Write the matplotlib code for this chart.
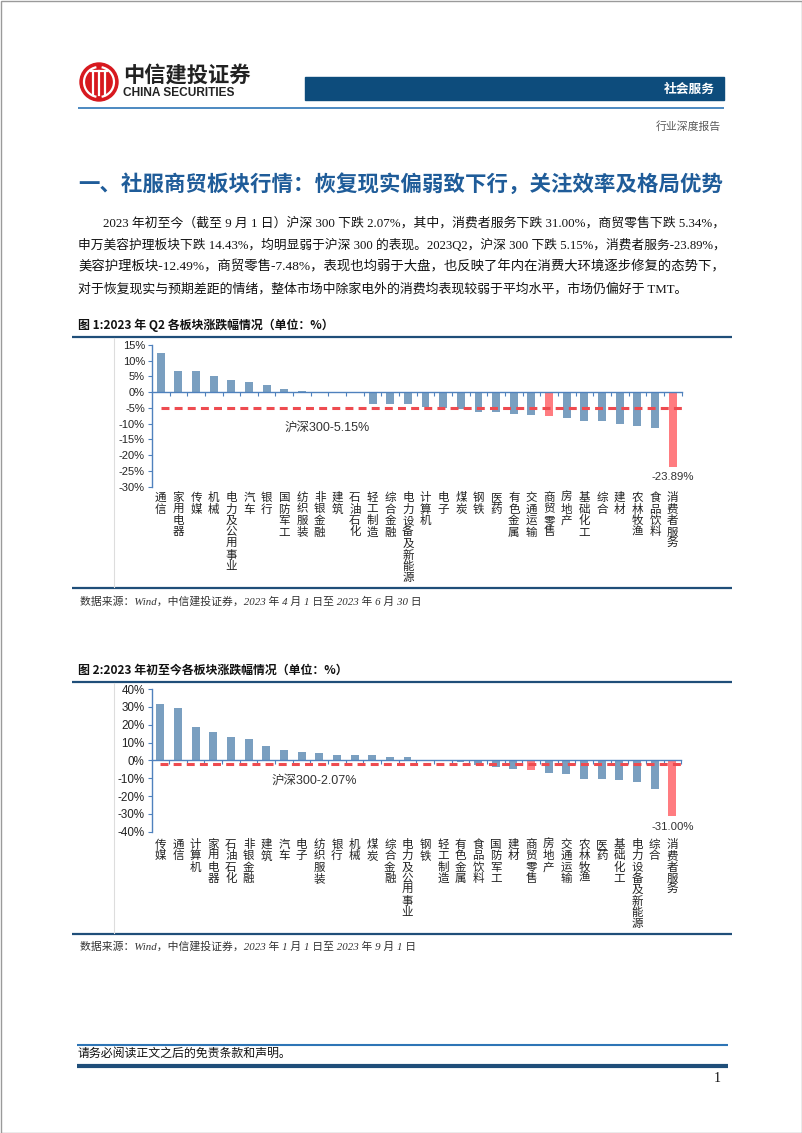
import matplotlib.pyplot as plt
from matplotlib.patches import Rectangle, Circle, Arc
from matplotlib.transforms import blended_transform_factory

W, H = 802, 1133
CJK = ['Noto Sans CJK SC', 'DejaVu Sans']
SERIF = ['Liberation Serif', 'Noto Sans CJK SC']
SANS = ['Liberation Sans', 'Noto Sans CJK SC']

plt.rcParams['font.family'] = CJK
plt.rcParams['axes.unicode_minus'] = False

# ---- data ----
q2_sectors = ['通信', '家用电器', '传媒', '机械', '电力及公用事业', '汽车', '银行', '国防军工',
              '纺织服装', '非银金融', '建筑', '石油石化', '轻工制造', '综合金融', '电力设备及新能源',
              '计算机', '电子', '煤炭', '钢铁', '医药', '有色金属', '交通运输', '商贸零售', '房地产',
              '基础化工', '综合', '建材', '农林牧渔', '食品饮料', '消费者服务']
q2_change = [12.6, 6.9, 6.7, 5.0, 4.0, 3.1, 2.4, 1.1, 0.4, 0.0, -0.1, -0.1, -3.6, -3.8, -3.7,
             -4.7, -4.9, -5.2, -6.3, -6.3, -6.9, -7.3, -7.48, -8.3, -9.1, -9.2, -10.2, -10.6,
             -11.3, -23.89]
q2_hs300 = -5.15

ytd_sectors = ['传媒', '通信', '计算机', '家用电器', '石油石化', '非银金融', '建筑', '汽车', '电子',
               '纺织服装', '银行', '机械', '煤炭', '综合金融', '电力及公用事业', '钢铁', '轻工制造',
               '有色金属', '食品饮料', '国防军工', '建材', '商贸零售', '房地产', '交通运输', '农林牧渔',
               '医药', '基础化工', '电力设备及新能源', '综合', '消费者服务']
ytd_change = [31.5, 29.1, 18.6, 16.0, 13.1, 12.2, 8.1, 5.6, 4.7, 4.3, 3.2, 3.2, 2.8, 1.6, 1.6,
              0.3, -0.4, -0.8, -2.4, -3.6, -4.6, -5.34, -7.0, -7.4, -10.4, -10.4, -11.1, -12.2,
              -15.8, -31.00]
ytd_hs300 = -2.07

highlight = ['商贸零售', '消费者服务']

q2_ticks = [15, 10, 5, 0, -5, -10, -15, -20, -25, -30]
ytd_ticks = [40, 30, 20, 10, 0, -10, -20, -30, -40]

body_lines = [
    '2023 年初至今（截至 9 月 1 日）沪深 300 下跌 2.07%，其中，消费者服务下跌 31.00%，商贸零售下跌 5.34%，',
    '申万美容护理板块下跌 14.43%，均明显弱于沪深 300 的表现。2023Q2，沪深 300 下跌 5.15%，消费者服务-23.89%，',
    '美容护理板块-12.49%，商贸零售-7.48%，表现也均弱于大盘，也反映了年内在消费大环境逐步修复的态势下，',
    '对于恢复现实与预期差距的情绪，整体市场中除家电外的消费均表现较弱于平均水平，市场仍偏好于 TMT。',
]

BLUE_BAR = '#7a9fc0'
RED_BAR = '#ff7c80'
AXIS_BLUE = '#4f81bd'
NAVY = '#1f4e79'

fig = plt.figure(figsize=(W / 100, H / 100), dpi=100)

# page layer in pixel coordinates
bg = fig.add_axes([0, 0, 1, 1])
bg.set_xlim(0, W)
bg.set_ylim(H, 0)
bg.axis('off')


def hline(x0, x1, y, color, lw):
    bg.plot([x0, x1], [y, y], color=color, lw=lw, solid_capstyle='butt')


bg.add_patch(Rectangle((0.5, 0.5), W - 1, H - 1, fill=False, ec='#9a9a9a', lw=1))

# header
bg.add_patch(Circle((99, 82), 19, color='#d7191f'))
bg.add_patch(Arc((99, 82), 30, 30, theta1=100, theta2=260, color='white', lw=1.6))
bg.add_patch(Arc((99, 82), 30, 30, theta1=-80, theta2=80, color='white', lw=1.6))
for dx in (-6, 0, 6):
    bg.plot([99 + dx, 99 + dx], [71, 95], color='white', lw=1.6)
bg.plot([91, 107], [71, 71], color='white', lw=1.6)
bg.text(123, 75, '中信建投证券', fontsize=15.3, fontweight='bold', color='#222222',
        ha='left', va='center')
bg.text(123, 93.5, 'CHINA SECURITIES', fontsize=8.6, fontweight='bold', color='#222222',
        family=['Liberation Sans'], ha='left', va='center')
bg.add_patch(Rectangle((305, 77), 419, 23, color='#0d4c7c'))
bg.text(715, 89, '社会服务', fontsize=9.2, fontweight='bold', color='white', ha='right', va='center')
hline(78, 724, 107.5, '#2e75b6', 1.2)
bg.text(721, 127, '行业深度报告', fontsize=7.8, color='#595959', ha='right', va='center')

# heading and body
bg.text(78, 184, '一、社服商贸板块行情：恢复现实偏弱致下行，关注效率及格局优势', fontsize=15.45,
        fontweight='bold', color='#1f5c99', ha='left', va='center')
body_y = [223, 245, 267, 289]
body_texts = []
for i, (line, y) in enumerate(zip(body_lines, body_y)):
    body_texts.append(bg.text(103 if i == 0 else 78, y, line, fontsize=9.3, family=SERIF,
                              color='#111111', ha='left', va='center'))

# justify the first three lines to the right margin (x = 722)
fig.canvas.draw()
renderer = fig.canvas.get_renderer()
for i, t in enumerate(body_texts[:3]):
    width = t.get_window_extent(renderer).width
    target = 722 - (103 if i == 0 else 78)
    t.set_fontsize(t.get_fontsize() * target / width)

# chart frames
titles = ['图 1:2023 年 Q2 各板块涨跌幅情况（单位：%）', '图 2:2023 年初至今各板块涨跌幅情况（单位：%）']
sources = ['数据来源：Wind，中信建投证券，2023 年 4 月 1 日至 2023 年 6 月 30 日',
           '数据来源：Wind，中信建投证券，2023 年 1 月 1 日至 2023 年 9 月 1 日']
frames = [(325, 336.5, 588, 601), (670, 682, 934, 946)]
for title, src, (ty, top, bot, sy) in zip(titles, sources, frames):
    bg.text(78, ty, title, fontsize=8.6, fontweight='bold', color='#111111', ha='left', va='center')
    hline(72, 732, top, NAVY, 1.6)
    hline(72, 732, bot, NAVY, 1.6)
    bg.plot([114, 114], [top + 1, bot - 1], color='#dddddd', lw=0.8)
    bg.text(80, sy, src, fontsize=7.8, style='italic', family=SERIF, color='#333333',
            ha='left', va='center')

# footer
hline(77, 728, 1045, '#2e75b6', 1.5)
bg.text(78, 1054, '请务必阅读正文之后的免责条款和声明。', fontsize=8.6, family=SERIF,
        color='#111111', ha='left', va='center')
hline(77, 728, 1066, '#1f4e79', 3)
bg.text(721, 1079, '1', fontsize=10, family=SERIF, color='#111111', ha='right', va='center')


def draw_chart(rect, sectors, values, hs300, ticks, hs_xy, min_y, label_top, step, tick_fs):
    l, r, t, b = rect
    ax = fig.add_axes([l / W, 1 - b / H, (r - l) / W, (b - t) / H])
    ax.set_facecolor('none')
    n = len(sectors)
    x = list(range(n))
    colors = [RED_BAR if s in highlight else BLUE_BAR for s in sectors]
    ax.bar(x, values, width=0.45, color=colors, zorder=2)
    ax.plot([0, n - 0.5], [hs300, hs300], color='#ee4b50', lw=2.2, dashes=(2.6, 1.7), zorder=3)
    ax.set_xlim(-0.5, n - 0.5)
    ax.set_ylim(ticks[-1], ticks[0])
    ax.set_yticks(ticks)
    ax.set_yticklabels([f'{v}%' for v in ticks], fontsize=tick_fs, family=SANS, color='#222222')
    ax.set_xticks([i + 0.5 for i in range(n)])
    ax.set_xticklabels([])
    for side in ('top', 'right'):
        ax.spines[side].set_visible(False)
    ax.spines['bottom'].set_position(('data', 0))
    ax.spines['bottom'].set_zorder(4)
    for side in ('left', 'bottom'):
        ax.spines[side].set_color(AXIS_BLUE)
        ax.spines[side].set_linewidth(1.0)
    ax.tick_params(axis='y', length=3, color=AXIS_BLUE, pad=2)
    ax.tick_params(axis='x', length=3, color=AXIS_BLUE, direction='out')

    ax.text(hs_xy[0], hs_xy[1], f'沪深300-{abs(hs300):.2f}%', fontsize=9, family=SANS,
            color='#333333', ha='center', va='center')
    ax.text(n - 1, min_y, f'{values[-1]:.2f}%', fontsize=8.2, family=SANS,
            color='#333333', ha='center', va='center')

    # vertical (stacked) category labels, one character per row
    tr = blended_transform_factory(ax.transData, fig.transFigure)
    for i, s in enumerate(sectors):
        for k, ch in enumerate(s):
            ax.text(i, 1 - (label_top + k * step) / H, ch, transform=tr, fontsize=8.3,
                    ha='center', va='top', color='#222222')
    return ax


draw_chart((151.9, 681.5, 345, 486.7), q2_sectors, q2_change, q2_hs300, q2_ticks,
           (9.4, -11.2), -26.8, 491, 11.5, 8)
draw_chart((151.5, 681.2, 689, 831.7), ytd_sectors, ytd_change, ytd_hs300, ytd_ticks,
           (8.7, -11.2), -37.6, 838, 11.3, 8.4)

fig.savefig('out.png', dpi=100)
